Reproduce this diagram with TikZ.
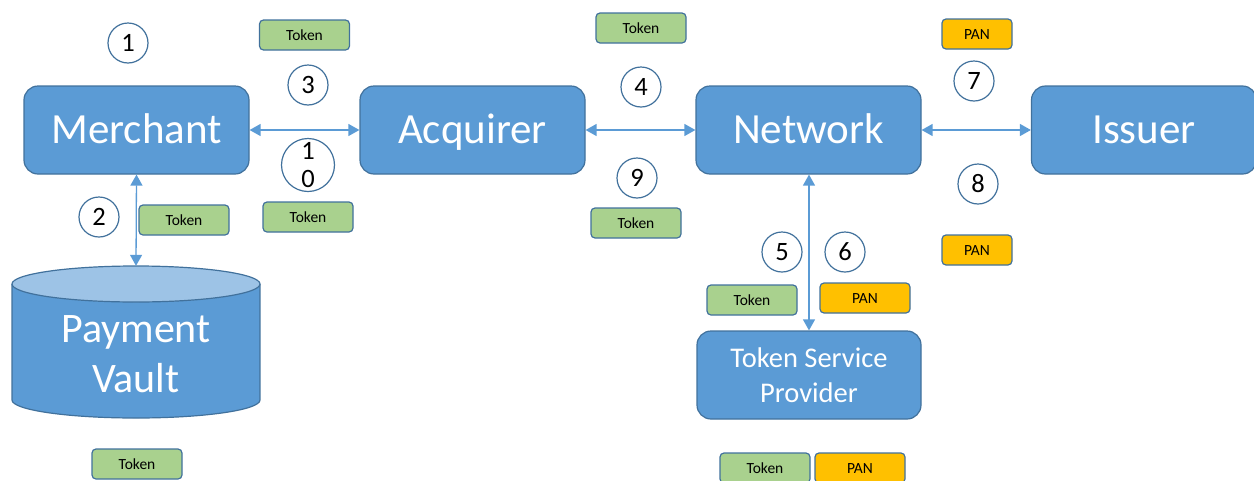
\documentclass[tikz,border=0pt]{standalone}
\usepackage{fontspec}
\setmainfont{Carlito}
\usetikzlibrary{arrows.meta}
\definecolor{boxfill}{HTML}{5B9BD5}
\definecolor{boxline}{HTML}{41719C}
\definecolor{vaulttop}{HTML}{9DC3E6}
\definecolor{tokfill}{HTML}{A9D18E}
\definecolor{panfill}{HTML}{FFC000}
\tikzset{
  party/.style={draw=boxline, line width=1.2pt, fill=boxfill, rounded corners=14pt,
    minimum width=225pt, minimum height=88pt, text=white, font=\fontsize{43}{46}\selectfont,
    inner sep=0pt, text height=27.7pt, text depth=0pt},
  tsp/.style={draw=boxline, line width=1.2pt, fill=boxfill, rounded corners=14pt,
    minimum width=224pt, minimum height=88pt, text=white, inner sep=0pt,
    font=\fontsize{28.5}{35}\selectfont, align=center},
  stepnum/.style={circle, draw=boxline, line width=1.2pt, fill=white, minimum size=40pt,
    inner sep=0pt, font=\fontsize{26.5}{27}\selectfont},
  tag/.style={draw=boxline, line width=1.2pt, rounded corners=4pt, minimum width=90pt,
    minimum height=30pt, inner sep=0pt, font=\fontsize{15.5}{16}\selectfont,
    text height=10pt, text depth=0pt},
  tok/.style={tag, fill=tokfill},
  pan/.style={tag, fill=panfill},
  link/.style={draw=boxfill, line width=1.3pt, {Triangle[length=11pt,width=12pt]}-{Triangle[length=11pt,width=12pt]}}
}
\begin{document}
\begin{tikzpicture}[x=1pt,y=-1pt]
\path[use as bounding box] (0,0) rectangle (1254,480);
\begin{scope}
\clip (0,0) rectangle (1254,480);

% parties
\node[party] (merchant) at (136.5,130) {Merchant};
\node[party] (acquirer) at (472.5,130) {Acquirer};
\node[party] (network)  at (808.5,130) {Network};
\node[party] (issuer)   at (1144,130)  {Issuer};
\node[tsp]   (provider) at (809,375)   {Token Service\\Provider};

% payment vault cylinder
\fill[boxfill] (12,284) rectangle (260,400);
\fill[boxfill] (136,400) ellipse [x radius=124, y radius=18];
\draw[boxline, line width=1.2pt] (12,284) -- (12,400) arc[start angle=180, end angle=0, x radius=124, y radius=18] -- (260,284);
\draw[boxline, line width=1.2pt, fill=vaulttop] (136,284) ellipse [x radius=124, y radius=18];
\node[minimum width=248pt, minimum height=152pt, inner sep=0pt] (vault) at (136,342) {};
\node[text=white, align=center, font=\fontsize{42}{50}\selectfont] (vaultlabel) at (136,354) {Payment\\Vault};

% connectors
\draw[link] (merchant) -- (acquirer);
\draw[link] (acquirer) -- (network);
\draw[link] (network) -- (issuer);
\draw[link] (merchant.south) -- (vault.north);
\draw[link] (network.south -| provider.north) -- (provider.north);

% step numbers
\node[stepnum] (s1) at (128,43) {1};
\node[stepnum] (s2) at (99,217) {2};
\node[stepnum] (s3) at (308,85) {3};
\node[stepnum, minimum size=53pt, align=center, font=\fontsize{26.5}{28}\selectfont] (s10) at (308,165) {1\\0};
\node[stepnum] (s4) at (641,87) {4};
\node[stepnum] (s9) at (637,178) {9};
\node[stepnum] (s7) at (974,81) {7};
\node[stepnum] (s8) at (978,184) {8};
\node[stepnum] (s5) at (782,252) {5};
\node[stepnum] (s6) at (845,252) {6};

% data tags
\node[tok] (t3)  at (304.5,35)  {Token};
\node[tok] (t2)  at (184,220)   {Token};
\node[tok] (t10) at (308,217)   {Token};
\node[tok] (t4)  at (641,28)    {Token};
\node[tok] (t9)  at (636,223)   {Token};
\node[pan, minimum width=70pt] (p7) at (977,34)  {PAN};
\node[pan, minimum width=70pt] (p8) at (977,250) {PAN};
\node[tok] (t5)  at (752,300)   {Token};
\node[pan] (p6)  at (865,298)   {PAN};
\node[tok] (tv)  at (137,464)   {Token};
\node[tok] (tb)  at (765,468)   {Token};
\node[pan] (pb)  at (860,468)   {PAN};
\end{scope}
\end{tikzpicture}
\end{document}
